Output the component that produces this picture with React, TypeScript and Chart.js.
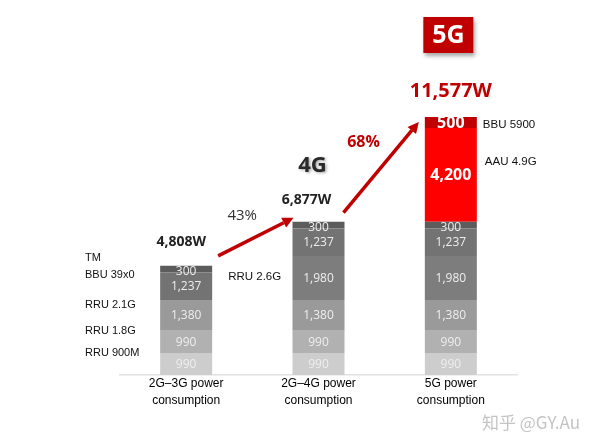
import React, { useEffect, useRef } from "react";
import { Chart, registerables } from "chart.js";

Chart.register(...registerables);

// ---- data ----
const categories = [
  ["2G–3G power", "consumption"],
  ["2G–4G power", "consumption"],
  ["5G power", "consumption"],
];
const seriesNames = ["RRU 900M", "RRU 1.8G", "RRU 2.1G", "RRU 2.6G", "BBU 39x0", "TM", "AAU 4.9G", "BBU 5900"];
const rru900 = [990, 990, 990];
const rru18 = [990, 990, 990];
const rru21 = [1380, 1380, 1380];
const rru26 = [0, 1980, 1980];
const bbu39 = [1237, 1237, 1237];
const tm = [300, 300, 300];
const aau49 = [0, 0, 4200];
const bbu5900 = [0, 0, 500];
const totalLabels = ["4,808W", "6,877W", "11,577W"];
const growthLabels = ["43%", "68%"];
const generationLabels = ["4G", "5G"];
const watermark = "知乎 @GY.Au";

const seriesValues = [rru900, rru18, rru21, rru26, bbu39, tm, aau49, bbu5900];
const seriesColors = ["#cdcdcd", "#b1b1b1", "#9a9a9a", "#7d7d7d", "#737373", "#5c5c5c", "#ff0000", "#c00000"];

const RED = "#c00000";
const SANS = "'Open Sans', 'Liberation Sans', Arial, sans-serif";
const ARIAL = "'Liberation Sans', Arial, sans-serif";

function drawArrow(ctx: CanvasRenderingContext2D, x1: number, y1: number, x2: number, y2: number) {
  const ang = Math.atan2(y2 - y1, x2 - x1);
  const head = 11;
  const hw = 5.5;
  const bx = x2 - head * Math.cos(ang);
  const by = y2 - head * Math.sin(ang);
  ctx.save();
  ctx.strokeStyle = RED;
  ctx.fillStyle = RED;
  ctx.lineWidth = 3.5;
  ctx.lineCap = "butt";
  ctx.beginPath();
  ctx.moveTo(x1, y1);
  ctx.lineTo(bx, by);
  ctx.stroke();
  ctx.beginPath();
  ctx.moveTo(x2, y2);
  ctx.lineTo(bx + hw * Math.sin(ang), by - hw * Math.cos(ang));
  ctx.lineTo(bx - hw * Math.sin(ang), by + hw * Math.cos(ang));
  ctx.closePath();
  ctx.fill();
  ctx.restore();
}

function text(ctx: CanvasRenderingContext2D, s: string, x: number, y: number, font: string, color: string, align: CanvasTextAlign = "center") {
  ctx.font = font;
  ctx.fillStyle = color;
  ctx.textAlign = align;
  ctx.textBaseline = "middle";
  ctx.fillText(s, x, y);
}

const annotPlugin = {
  id: "annot",
  afterDatasetsDraw(chart: any) {
    const ctx: CanvasRenderingContext2D = chart.ctx;
    const n = chart.data.labels.length;
    const lastIdx = chart.data.datasets.length - 1;
    // segment value labels
    chart.data.datasets.forEach((ds: any, di: number) => {
      const meta = chart.getDatasetMeta(di);
      meta.data.forEach((el: any, i: number) => {
        const v = ds.data[i];
        if (!v) return;
        const top = el.y;
        const base = el.base;
        let cy = (top + base) / 2;
        const isRed = di >= 6;
        if (di === 5) cy += 2;
        ctx.save();
        text(
          ctx,
          v.toLocaleString("en-US"),
          el.x,
          cy + (isRed ? 1 : 0.5),
          isRed ? `bold 16px ${SANS}` : `12px ${SANS}`,
          isRed ? "#ffffff" : "#eeeeee"
        );
        ctx.restore();
      });
    });

    // series names
    const b0 = chart.getDatasetMeta(0).data[0];
    ctx.save();
    [0, 1, 2, 4, 5].forEach((di) => {
      const el = chart.getDatasetMeta(di).data[0];
      const cy = (el.y + el.base) / 2 - 11;
      text(ctx, seriesNames[di], 85, cy, `11px ${ARIAL}`, "#111111", "left");
    });
    {
      const el = chart.getDatasetMeta(3).data[1];
      const cy = (el.y + el.base) / 2;
      text(ctx, seriesNames[3], b0.x + b0.width / 2 + 16, cy - 1, `11.5px ${ARIAL}`, "#111111", "left");
    }
    {
      const el = chart.getDatasetMeta(7).data[2];
      text(ctx, seriesNames[7], el.x + el.width / 2 + 6, (el.y + el.base) / 2 + 2, `11.5px ${ARIAL}`, "#111111", "left");
      const el2 = chart.getDatasetMeta(6).data[2];
      text(ctx, seriesNames[6], el2.x + el2.width / 2 + 8, el2.y + 34, `11.5px ${ARIAL}`, "#111111", "left");
    }
    ctx.restore();

    // totals and tops
    const topEls = [] as any[];
    for (let i = 0; i < n; i++) {
      let best: any = null;
      for (let di = lastIdx; di >= 0; di--) {
        if (chart.data.datasets[di].data[i]) {
          best = chart.getDatasetMeta(di).data[i];
          break;
        }
      }
      topEls.push(best);
    }
    const tops = topEls.map((e) => e.y);
    const xs = topEls.map((e) => e.x);
    const hw = topEls[0].width / 2;

    ctx.save();
    text(ctx, totalLabels[0], xs[0] - 5, tops[0] - 24, `bold 14px ${SANS}`, "#222222");
    text(ctx, totalLabels[1], xs[1] - 12, tops[1] - 22, `bold 14px ${SANS}`, "#222222");
    text(ctx, totalLabels[2], xs[2], tops[2] - 26, `bold 20px ${SANS}`, RED);

    // arrows
    drawArrow(ctx, xs[0] + hw + 6, tops[0] - 10, xs[1] - hw + 1, tops[1] - 4);
    drawArrow(ctx, xs[1] + hw - 1, tops[1] - 9, xs[2] - hw - 6, tops[2] + 5);

    text(ctx, growthLabels[0], xs[0] + hw + 30, tops[0] - 50, `15px ${SANS}`, "#333333");
    text(ctx, growthLabels[1], xs[1] + hw + 19, tops[1] - 79, `bold 16px ${SANS}`, RED);

    // 4G
    ctx.save();
    ctx.shadowColor = "rgba(0,0,0,0.35)";
    ctx.shadowBlur = 3;
    ctx.shadowOffsetX = 1.5;
    ctx.shadowOffsetY = 1.5;
    text(ctx, generationLabels[0], xs[1] - 6, tops[1] - 56, `bold 22px ${SANS}`, "#2a2a2a");
    ctx.restore();

    // 5G badge
    ctx.save();
    const bx = xs[2] - 2.5;
    const by = tops[2] - 82;
    ctx.shadowColor = "rgba(0,0,0,0.35)";
    ctx.shadowBlur = 4;
    ctx.shadowOffsetX = 2;
    ctx.shadowOffsetY = 3;
    ctx.fillStyle = RED;
    ctx.fillRect(bx - 25, by - 18, 50, 36);
    ctx.restore();
    text(ctx, generationLabels[1], bx, by + 1, `bold 25px ${SANS}`, "#ffffff");

    // watermark
    text(ctx, watermark, 531, 423, `17px 'Noto Sans CJK SC', ${SANS}`, "#c4c4c4");
    ctx.restore();
  },
};

export default function App() {
  const ref = useRef<HTMLCanvasElement>(null);
  useEffect(() => {
    document.body.style.margin = "0";
    const chart = new Chart(ref.current!, {
      type: "bar",
      data: {
        labels: categories as any,
        datasets: seriesValues.map((vals, i) => ({
          label: seriesNames[i],
          data: vals,
          backgroundColor: seriesColors[i],
          borderWidth: 0,
          barPercentage: 0.393,
          categoryPercentage: 1,
        })),
      },
      options: {
        responsive: false,
        animation: false,
        layout: { padding: { left: 120, right: 83, top: 18.4, bottom: 36.4 } },
        plugins: { legend: { display: false }, tooltip: { enabled: false } },
        scales: {
          x: {
            stacked: true,
            grid: { display: false, drawTicks: false },
            border: { display: true, color: "#e2e2e2", width: 1.5 },
            ticks: {
              padding: 0,
              maxRotation: 0,
              autoSkip: false,
              color: "#000000",
              font: { family: ARIAL, size: 12, lineHeight: 1.4 },
            },
          },
          y: { stacked: true, display: false, min: 0, max: 16000 },
        },
      },
      plugins: [annotPlugin],
    });
    return () => chart.destroy();
  }, []);
  return (
    <div style={{ width: 600, height: 445, background: "#ffffff" }}>
      <canvas ref={ref} width={600} height={445} />
    </div>
  );
}
